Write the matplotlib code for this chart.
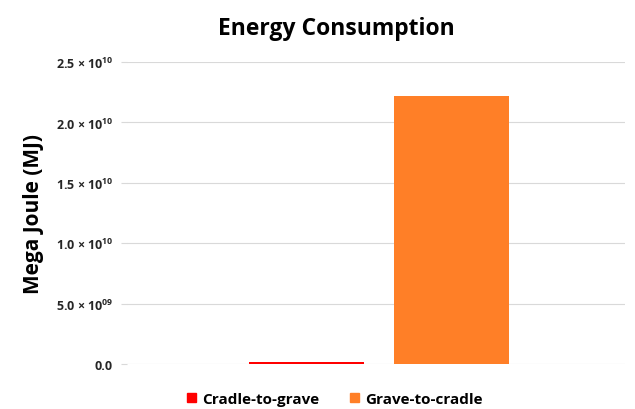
import matplotlib
matplotlib.use('Agg')
import matplotlib.pyplot as plt
from matplotlib.patches import Patch

series = ['Cradle-to-grave', 'Grave-to-cradle']
values = [1.2e8, 2.22e10]
colors = ['#FF0000', '#FF7F27']
ticks = [0, 0.5e10, 1.0e10, 1.5e10, 2.0e10, 2.5e10]
tick_labels = ['0.0', r'5.0 × 10$^{09}$', r'1.0 × 10$^{10}$',
               r'1.5 × 10$^{10}$', r'2.0 × 10$^{10}$', r'2.5 × 10$^{10}$']

plt.rcParams['font.family'] = ['Open Sans', 'DejaVu Sans']
plt.rcParams['mathtext.fontset'] = 'custom'
plt.rcParams['mathtext.rm'] = 'Open Sans:bold'
plt.rcParams['mathtext.it'] = 'Open Sans:bold'
plt.rcParams['mathtext.bf'] = 'Open Sans:bold'

fig = plt.figure(figsize=(6.35, 4.1), dpi=100)
ax = fig.add_axes([0.2, 0.11, 0.785, 0.736])

offsets = [-0.25, 0.25]
for off, v, c in zip(offsets, values, colors):
    ax.bar(off, v, width=0.397, color=c, linewidth=0, zorder=3)

ax.set_xlim(-0.87, 0.85)
ax.set_ylim(0, 2.5e10)
ax.set_xticks([])
ax.set_yticks(ticks)
ax.set_yticklabels(tick_labels, fontsize=9, fontweight='bold', color='#262626')
ax.tick_params(axis='y', length=4, color='#d9d9d9', pad=6)
ax.grid(axis='y', color='#d9d9d9', linewidth=0.8, zorder=0)
for s in ax.spines.values():
    s.set_visible(False)

ax.set_ylabel('Mega Joule (MJ)', fontsize=15, fontweight='bold', labelpad=8)
fig.text(0.53, 0.93, 'Energy Consumption', ha='center', va='center',
         fontsize=16.5, fontweight='bold')

handles = [Patch(color=c, label=s) for s, c in zip(series, colors)]
fig.legend(handles=handles, loc='center', bbox_to_anchor=(0.527, 0.025), ncol=2,
           frameon=False, prop={'weight': 'bold', 'size': 11},
           handlelength=0.6, handleheight=0.6, handletextpad=0.4, columnspacing=2.0)

fig.savefig('out.png', dpi=100)
